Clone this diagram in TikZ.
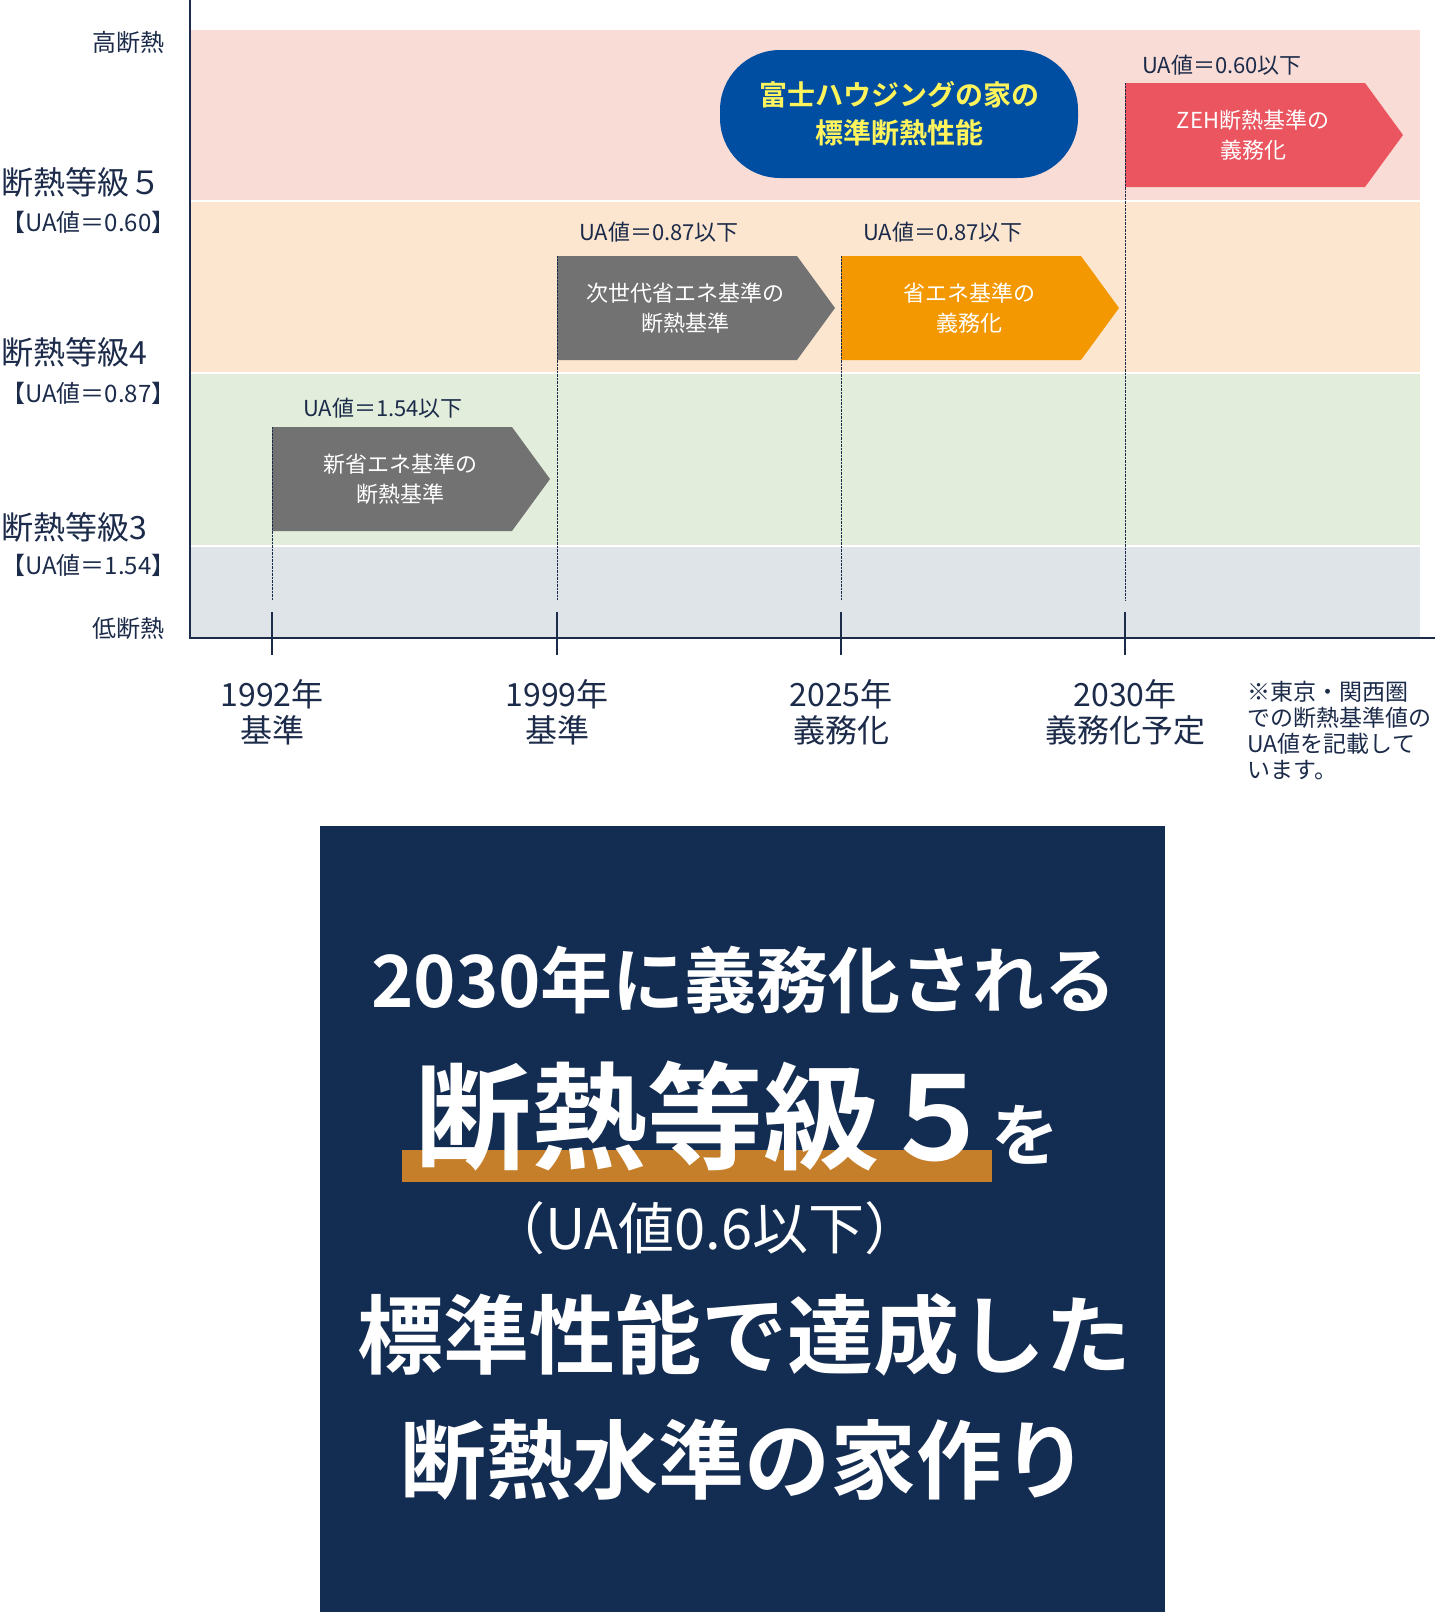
\documentclass[tikz,border=0pt]{standalone}
\usepackage{fontspec}
\setmainfont{Noto Sans CJK JP}
\newfontfamily\jpbold{Noto Sans CJK JP Bold}
\definecolor{bandpink}{HTML}{F9DCD6}
\definecolor{bandorange}{HTML}{FCE6CF}
\definecolor{bandgreen}{HTML}{E2EEDB}
\definecolor{bandgray}{HTML}{DFE4E8}
\definecolor{arrowgray}{HTML}{727272}
\definecolor{arroworange}{HTML}{F39800}
\definecolor{arrowred}{HTML}{EA5560}
\definecolor{boxblue}{HTML}{004EA2}
\definecolor{textyellow}{HTML}{FFF45C}
\definecolor{navy}{HTML}{132C52}
\definecolor{gold}{HTML}{C57F2A}
\definecolor{ink}{HTML}{1C2B4A}
\newcommand{\fs}[1]{\fontsize{#1}{#1}\selectfont}
\tikzset{
  levellabel/.style={font=\fs{32}, text=ink, anchor=west, inner sep=0pt},
  ualabel/.style={font=\fs{24}, text=ink, anchor=west, inner sep=0pt},
  sidelabel/.style={font=\fs{24}, text=ink, anchor=east},
  yearlabel/.style={font=\fs{32}, text=ink, align=center, text width=200pt},
  steplabel/.style={font=\fs{22}, text=ink},
  arrowtext/.style={font=\fs{22}, text=white, align=center},
  bigline/.style={font=\jpbold, text=white}
}
% arrow box: x start, y top, fill
\newcommand{\stagearrow}[3]{%
  \fill[#3] (#1,#2) -- ++(240,0) -- ++(38,52) -- ++(-38,52) -- ++(-240,0) -- cycle;
  \draw[densely dotted, ink] (#1,#2) -- (#1,600);
}
\begin{document}
\begin{tikzpicture}[x=1pt, y=-1pt]
\useasboundingbox (0,0) rectangle (1444,1612);
% Bands
    \fill[bandpink] (190,30) rectangle (1420,200);
    \fill[bandorange] (190,202) rectangle (1420,372);
    \fill[bandgreen] (190,374) rectangle (1420,545);
    \fill[bandgray] (190,547) rectangle (1420,638);
% Axes
    \draw[ink, line width=1.5pt] (190,0) -- (190,638) -- (1435,638);
    \foreach \x in {272,557,841,1125}
        \draw[ink, line width=1.5pt] (\x,612) -- (\x,655);
% Left labels
    \node[sidelabel] (high) at (168,42) {高断熱};
    \node[sidelabel] (low) at (168,628) {低断熱};
    \node[levellabel] (g5) at (1,182) {断熱等級５};
    \node[ualabel] (u5) at (1,222) {【UA値＝0.60】};
    \node[levellabel] (g4) at (1,352) {断熱等級4};
    \node[ualabel] (u4) at (1,393) {【UA値＝0.87】};
    \node[levellabel] (g3) at (1,527) {断熱等級3};
    \node[ualabel] (u3) at (1,565) {【UA値＝1.54】};
% Stage arrows
    \stagearrow{272}{427}{arrowgray}
    \stagearrow{557}{256}{arrowgray}
    \stagearrow{841}{256}{arroworange}
    \stagearrow{1125}{83}{arrowred}
    \node[arrowtext] (s1) at (400,479) {新省エネ基準の\\[8pt]断熱基準};
    \node[arrowtext] (s2) at (685,308) {次世代省エネ基準の\\[8pt]断熱基準};
    \node[arrowtext] (s3) at (969,308) {省エネ基準の\\[8pt]義務化};
    \node[arrowtext] (s4) at (1253,135) {ZEH断熱基準の\\[8pt]義務化};
    \node[steplabel] (l1) at (383,408) {UA値＝1.54以下};
    \node[steplabel] (l2) at (659,232) {UA値＝0.87以下};
    \node[steplabel] (l3) at (943,232) {UA値＝0.87以下};
    \node[steplabel] (l4) at (1222,65) {UA値＝0.60以下};
% Own standard
    \fill[boxblue, rounded corners=60pt] (720,50) rectangle (1078,178);
    \node[font=\jpbold\fs{28}, text=textyellow, align=center] (own) at (899,114) {富士ハウジングの家の\\[10pt]標準断熱性能};
% Years
    \node[yearlabel] (y1) at (272,712) {1992年\\[4pt]基準};
    \node[yearlabel] (y2) at (557,712) {1999年\\[4pt]基準};
    \node[yearlabel] (y3) at (841,712) {2025年\\[4pt]義務化};
    \node[yearlabel] (y4) at (1125,712) {2030年\\[4pt]義務化予定};
    \node[font=\fs{23}, text=ink, anchor=north west, align=left] (note) at (1244,678)
        {※東京・関西圏\\[3pt]での断熱基準値の\\[3pt]UA値を記載して\\[3pt]います。};
% Summary box
    \fill[navy] (320,826) rectangle (1165,1612);
    \node[bigline, font=\jpbold\fs{72}] (t1) at (744,980) {2030年に義務化される};
    \fill[gold] (402,1150) rectangle (992,1182);
    \node[bigline, font=\jpbold\fs{116}, anchor=base west] (t2) at (412,1160) {断熱等級５};
    \node[bigline, font=\jpbold\fs{68}, anchor=base west] (t2b) at (988,1160) {を};
    \node[text=white, font=\fs{56}] (t3) at (705,1228) {（UA値0.6以下）};
    \node[bigline, font=\jpbold\fs{86}] (t4) at (744,1335) {標準性能で達成した};
    \node[bigline, font=\jpbold\fs{86}] (t5) at (744,1460) {断熱水準の家作り};
\end{tikzpicture}
\end{document}
